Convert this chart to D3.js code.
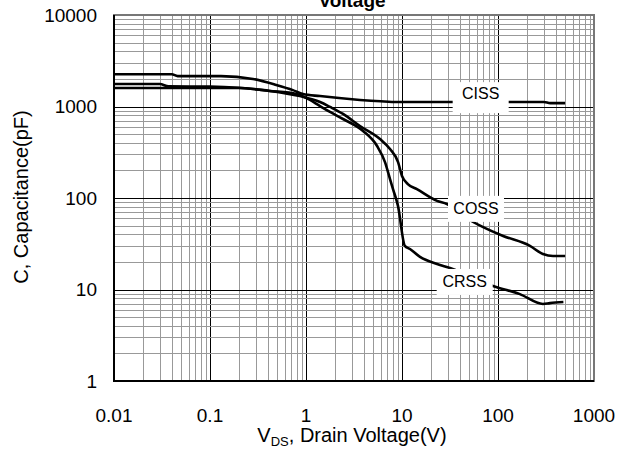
<!DOCTYPE html>
<html>
<head>
<meta charset="utf-8">
<script src="https://cdn.jsdelivr.net/npm/d3@7"></script>
<style>
  body { margin: 0; background: #fff; }
  svg { display: block; font-family: Arial, "Liberation Sans", sans-serif; }
</style>
</head>
<body>
<div id="chart"></div>
<script>
// VDS (V) and capacitance (pF)
const cissVds = [0.01, 0.04, 0.046, 0.13, 0.28, 0.49, 0.73, 0.93, 1.4, 3.65, 6, 9, 100, 300, 350, 500];
const ciss = [2250, 2250, 2150, 2150, 2000, 1720, 1510, 1370, 1300, 1180, 1140, 1120, 1120, 1120, 1090, 1090];

const cossVds = [0.01, 0.03, 0.037, 0.1, 0.2, 0.42, 0.86, 1.4, 1.78, 2.43, 3.65, 5.9, 7.5, 9.1, 10, 11.5, 14.3, 23.2, 29.4, 45, 70, 113, 215, 294, 374, 500];
const coss = [1760, 1760, 1660, 1650, 1600, 1480, 1300, 1120, 990, 830, 612, 441, 343, 247, 174, 142, 125, 93, 86, 62, 48, 38.5, 30, 24.4, 23.2, 23.2];

const crssVds = [0.01, 0.2, 0.42, 0.8, 1, 1.4, 1.78, 2.43, 3.93, 5.5, 6.65, 7.5, 8.06, 9.08, 10.7, 12.1, 15.4, 23.2, 31.6, 88.7, 169, 294, 347, 480];
const crss = [1590, 1590, 1480, 1370, 1240, 1010, 871, 730, 540, 370, 247, 161, 125, 82, 30, 27.7, 22.7, 19, 17.2, 10.9, 8.9, 6.95, 7.1, 7.3];

const xTicks = [0.01, 0.1, 1, 10, 100, 1000];
const yTicks = [1, 10, 100, 1000, 10000];

const series = [
  { name: 'CISS', vds: cissVds, c: ciss, label: [66, 1400] },
  { name: 'COSS', vds: cossVds, c: coss, label: [59, 78] },
  { name: 'CRSS', vds: crssVds, c: crss, label: [45, 12.4] },
];

const width = 629;
const height = 450;

const x = d3.scaleLog()
  .domain([0.01, 1000])
  .range([114, 594]);

const y = d3.scaleLog()
  .domain([1, 10000])
  .range([381, 15]);

const svg = d3.select('#chart')
  .append('svg')
  .attr('width', width)
  .attr('height', height);

// minor + major grid, every 1..9 per decade
const minorX = [];
for (let p = -2; p < 3; p++) {
  for (let k = 1; k < 10; k++) minorX.push(k * Math.pow(10, p));
}
minorX.push(1000);
const minorY = [];
for (let p = 0; p < 4; p++) {
  for (let k = 1; k < 10; k++) minorY.push(k * Math.pow(10, p));
}
minorY.push(10000);

const isDecade = v => Math.abs(Math.log10(v) - Math.round(Math.log10(v))) < 1e-9;

const grid = svg.append('g').attr('class', 'grid');

grid.selectAll('.vline')
  .data(minorX)
  .enter().append('line')
  .attr('class', 'vline')
  .attr('x1', d => Math.round(x(d)) + 0.5)
  .attr('x2', d => Math.round(x(d)) + 0.5)
  .attr('y1', y(10000))
  .attr('y2', y(1))
  .style('stroke', d => isDecade(d) ? '#000' : '#999')
  .style('stroke-width', 1);

grid.selectAll('.hline')
  .data(minorY)
  .enter().append('line')
  .attr('class', 'hline')
  .attr('x1', x(0.01))
  .attr('x2', x(1000))
  .attr('y1', d => Math.round(y(d)) + 0.5)
  .attr('y2', d => Math.round(y(d)) + 0.5)
  .style('stroke', d => isDecade(d) ? '#000' : '#999')
  .style('stroke-width', 1);

// frame: grey top/right, black left/bottom
svg.append('rect')
  .attr('x', x(0.01))
  .attr('y', y(10000))
  .attr('width', x(1000) - x(0.01))
  .attr('height', y(1) - y(10000))
  .style('fill', 'none')
  .style('stroke', '#777')
  .style('stroke-width', 2);

svg.append('path')
  .attr('d', `M${x(0.01)},${y(10000)}V${y(1)}H${x(1000)}`)
  .style('fill', 'none')
  .style('stroke', '#000')
  .style('stroke-width', 2);

const line = d3.line()
  .x(d => x(d[0]))
  .y(d => y(d[1]))
  .curve(d3.curveMonotoneX);

svg.selectAll('.curve')
  .data(series)
  .enter().append('path')
  .attr('class', 'curve')
  .attr('d', s => line(s.vds.map((v, i) => [v, s.c[i]])))
  .style('fill', 'none')
  .style('stroke', '#000')
  .style('stroke-width', 2.6)
  .style('stroke-linejoin', 'round');

// curve labels on white boxes
const labels = svg.selectAll('.curve-label')
  .data(series)
  .enter().append('g')
  .attr('class', 'curve-label')
  .attr('transform', s => `translate(${x(s.label[0])}, ${y(s.label[1])})`);

labels.append('rect')
  .attr('x', -28)
  .attr('y', s => s.name === 'CISS' ? -11 : -12)
  .attr('width', 56)
  .attr('height', s => s.name === 'CISS' ? 31 : 26)
  .style('fill', '#fff');

labels.append('text')
  .attr('text-anchor', 'middle')
  .attr('dy', '0.36em')
  .style('font-size', '16px')
  .text(s => s.name);

// tick labels
svg.selectAll('.xtick')
  .data(xTicks)
  .enter().append('text')
  .attr('class', 'xtick')
  .attr('x', d => x(d))
  .attr('y', 422)
  .attr('text-anchor', 'middle')
  .style('font-size', '19px')
  .text(d => d);

svg.selectAll('.ytick')
  .data(yTicks)
  .enter().append('text')
  .attr('class', 'ytick')
  .attr('x', 97)
  .attr('y', d => y(d))
  .attr('dy', '0.35em')
  .attr('text-anchor', 'end')
  .style('font-size', '19px')
  .text(d => d);

// titles
svg.append('text')
  .attr('x', 352)
  .attr('y', 7)
  .attr('text-anchor', 'middle')
  .style('font-size', '19px')
  .style('font-weight', 'bold')
  .text('Voltage');

const xLabel = svg.append('text')
  .attr('x', 352)
  .attr('y', 442)
  .attr('text-anchor', 'middle')
  .style('font-size', '20px');
xLabel.append('tspan').text('V');
xLabel.append('tspan')
  .attr('dy', 4)
  .style('font-size', '13px')
  .text('DS');
xLabel.append('tspan')
  .attr('dy', -4)
  .text(', Drain Voltage(V)');

svg.append('text')
  .attr('transform', 'translate(28, 197) rotate(-90)')
  .attr('text-anchor', 'middle')
  .style('font-size', '20px')
  .text('C, Capacitance(pF)');
</script>
</body>
</html>
